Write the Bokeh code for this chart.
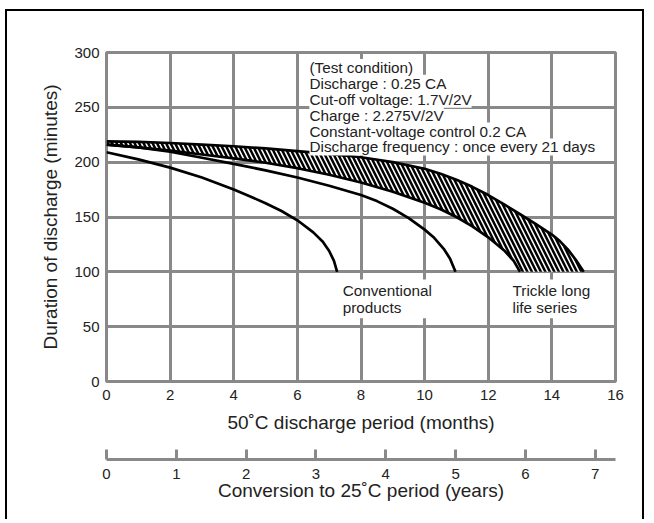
from bokeh.plotting import figure
from bokeh.models import Range1d, LinearAxis, FixedTicker, Label
from bokeh.embed import file_html
from bokeh.resources import INLINE

# ---------------- data ----------------
months_ticks = [0, 2, 4, 6, 8, 10, 12, 14, 16]
minutes_ticks = [0, 50, 100, 150, 200, 250, 300]
years_ticks = [0, 1, 2, 3, 4, 5, 6, 7]

# Conventional products (shorter life curve)
conv_a_m = [0, 1, 2, 3, 4, 4.5, 5, 5.5, 6, 6.5, 6.8, 7.0, 7.15, 7.25]
conv_a_v = [209, 202.5, 195, 186, 175, 169, 162.5, 155.5, 147, 136, 127.5, 119, 110, 100]

# Conventional products (longer life curve)
conv_b_m = [0, 1, 2, 3, 4, 5, 6, 7, 8, 8.5, 9, 9.5, 10, 10.3, 10.6, 10.8, 10.97]
conv_b_v = [216, 213.5, 209.5, 204, 198.5, 192.5, 186, 178.5, 170, 164.5, 157.5, 149, 138.5, 131, 121, 112, 100]

# Trickle long life series band: upper and lower boundaries
trickle_hi_m = [0, 1, 2, 3, 4, 5, 6, 7, 8, 9, 10, 10.5, 11, 11.5, 12, 12.5, 13, 13.5, 14, 14.25, 14.5, 14.75, 15]
trickle_hi_v = [219, 218.5, 217.5, 216, 214.5, 212.5, 210, 207.5, 204.5, 200, 194, 189.5, 184, 177.5, 170, 161.5, 152.5, 143.5, 134, 128, 120.5, 111, 100]
trickle_lo_m = [0, 1, 2, 3, 4, 5, 6, 7, 8, 9, 10, 10.5, 11, 11.5, 12, 12.5, 12.8, 13]
trickle_lo_v = [216, 213.5, 210.5, 207, 203.5, 199.5, 194.5, 188.5, 181.5, 173, 163, 157, 150, 141.5, 131.5, 119.5, 110, 100]

test_lines = [
    "(Test condition)",
    "Discharge : 0.25 CA",
    "Cut-off voltage: 1.7V/2V",
    "Charge : 2.275V/2V",
    "Constant-voltage control 0.2 CA",
    "Discharge frequency : once every 21 days",
]

FONT = "Liberation Sans"
TXT = "#222222"
GRID = "#898989"

p = figure(width=639, height=510, x_range=Range1d(0, 16), y_range=Range1d(0, 300),
           output_backend="svg", toolbar_location=None,
           min_border_left=99, min_border_right=31, min_border_top=41, min_border_bottom=140)
p.styles = {"margin-left": "5px", "margin-top": "9px",
            "border-left": "2px solid black", "border-top": "2px solid black",
            "border-right": "2px solid black"}
p.background_fill_color = "white"
p.border_fill_color = "white"
p.outline_line_color = GRID
p.outline_line_width = 3

# grid
p.xgrid.ticker = FixedTicker(ticks=months_ticks)
p.ygrid.ticker = FixedTicker(ticks=minutes_ticks)
for g in (p.xgrid, p.ygrid):
    g.grid_line_color = GRID
    g.grid_line_width = 3

# main axes
p.xaxis.ticker = FixedTicker(ticks=months_ticks)
p.yaxis.ticker = FixedTicker(ticks=minutes_ticks)
for ax in (p.xaxis, p.yaxis):
    ax.axis_line_color = None
    ax.major_tick_line_color = None
    ax.minor_tick_line_color = None
    ax.major_tick_in = 0
    ax.major_tick_out = 0
    ax.major_label_text_font = FONT
    ax.major_label_text_font_size = "15px"
    ax.major_label_text_color = TXT
    ax.axis_label_text_font = FONT
    ax.axis_label_text_font_size = "19px"
    ax.axis_label_text_font_style = "normal"
    ax.axis_label_text_color = TXT
p.xaxis.major_label_standoff = 8
p.yaxis.major_label_standoff = 7
p.yaxis.axis_label = "Duration of discharge (minutes)"
p.yaxis.axis_label_standoff = 10
# trailing empty line leaves the gap above the years scale
p.xaxis.axis_label = "50˚C discharge period (months)\n"
p.xaxis.axis_label_standoff = 9
p.xaxis.axis_label_text_line_height = 1.12

# years axis
p.extra_x_ranges = {"years": Range1d(0, 7.29)}
ya = LinearAxis(x_range_name="years", ticker=FixedTicker(ticks=years_ticks),
                axis_label="Conversion to 25˚C period (years)")
ya.axis_line_color = GRID
ya.axis_line_width = 3
ya.major_tick_line_color = GRID
ya.major_tick_line_width = 3
ya.major_tick_in = 10
ya.major_tick_out = 0
ya.minor_tick_line_color = None
ya.major_label_standoff = 9
ya.major_label_text_font = FONT
ya.major_label_text_font_size = "15px"
ya.major_label_text_color = TXT
ya.axis_label_text_font = FONT
ya.axis_label_text_font_size = "19px"
ya.axis_label_text_font_style = "normal"
ya.axis_label_text_color = TXT
ya.axis_label_standoff = -2
p.add_layout(ya, "below")

# hatched band
band_x = trickle_hi_m + trickle_lo_m[::-1]
band_y = trickle_hi_v + trickle_lo_v[::-1]
p.patch(band_x, band_y, fill_color="white", line_color=None,
        hatch_pattern="left_diagonal_line", hatch_color="black",
        hatch_weight=2.5, hatch_scale=9)

LW = 2.7
p.line(trickle_hi_m, trickle_hi_v, line_color="black", line_width=LW)
p.line(trickle_lo_m, trickle_lo_v, line_color="black", line_width=LW)
p.line(conv_a_m, conv_a_v, line_color="black", line_width=LW)
p.line(conv_b_m, conv_b_v, line_color="black", line_width=LW)

# test condition text (added bottom line first so upper boxes never hide descenders)
for i in reversed(range(len(test_lines))):
    p.add_layout(Label(x=6.38, y=286.4 - 14.5 * i, text=test_lines[i], text_align="left",
                       text_baseline="middle", text_font=FONT, text_font_size="15.3px",
                       text_color=TXT, background_fill_color="white", padding=0))

# series labels
p.add_layout(Label(x=7.36, y=93, text="Conventional\nproducts", text_align="left",
                   text_baseline="top", text_font=FONT, text_font_size="15.3px",
                   text_line_height=1.05, text_color=TXT,
                   background_fill_color="white", padding=2))
p.add_layout(Label(x=12.7, y=93, text="Trickle long\nlife series", text_align="left",
                   text_baseline="top", text_font=FONT, text_font_size="15.3px",
                   text_line_height=1.05, text_color=TXT,
                   background_fill_color="white", padding=2))

open("out.html", "w").write(file_html(p, INLINE))
